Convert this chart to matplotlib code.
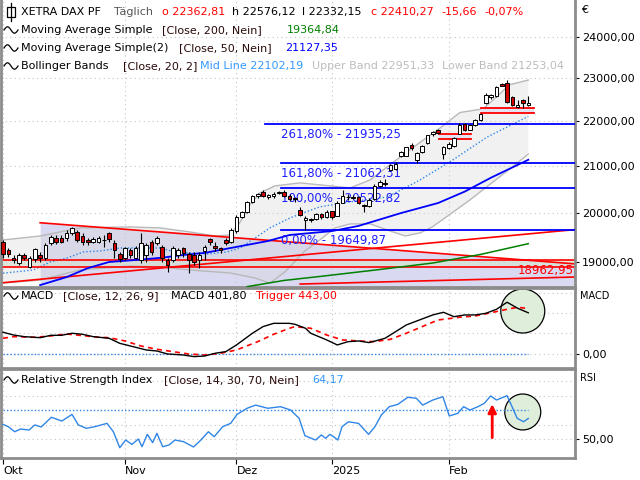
import numpy as np
import matplotlib
matplotlib.use("Agg")
import matplotlib.pyplot as plt
from matplotlib.patches import Ellipse, Rectangle
from matplotlib.lines import Line2D
from matplotlib.ticker import FixedLocator, NullLocator, FuncFormatter

plt.rcParams['font.family'] = ['DejaVu Sans']

# ---------------- data ----------------
opens = [19405, 19239, 19085, 18974, 19139, 18908, 19059, 19139, 19073, 19372,
         19487, 19474, 19474, 19575, 19609, 19528, 19440, 19405, 19405, 19433,
         19575, 19372, 19153, 19073, 19239, 19073, 19040, 19139, 19393, 19372,
         19306, 19040, 19040, 19139, 19273, 19153, 19139, 19040, 19219, 19454,
         19326, 19273, 19440, 19405, 19620, 19917, 20021, 20230, 20340, 20440,
         20320, 20340, 20415, 20430, 20350, 20300, 20060, 19850, 19860, 19860,
         19980, 19910, 20030, 19930, 20210, 20320, 20330, 20330, 20150, 20140,
         20290, 20560, 20620, 20907, 20922, 21200, 21218, 21458, 21126, 21309,
         21503, 21697, 21795, 21254, 21390, 21427, 21704, 21932, 21795, 21909,
         22023, 22410, 22548, 22580, 22850, 22880, 22548, 22320, 22470, 22362.81]
highs = [19440, 19273, 19139, 19172, 19172, 19125, 19273, 19206, 19372, 19541,
         19541, 19541, 19643, 19712, 19643, 19575, 19487, 19507, 19520, 19541,
         19609, 19440, 19206, 19306, 19273, 19326, 19575, 19372, 19440, 19520,
         19339, 19073, 19326, 19273, 19306, 19206, 19206, 19193, 19339, 19487,
         19405, 19306, 19474, 19678, 19950, 20040, 20250, 20360, 20420, 20480,
         20400, 20430, 20460, 20470, 20400, 20330, 20110, 19920, 19890, 19990,
         20000, 20060, 20040, 20250, 20470, 20380, 20360, 20350, 20170, 20300,
         20600, 20680, 20700, 21030, 21070, 21330, 21420, 21500, 21300, 21460,
         21680, 21760, 21810, 21440, 21530, 21640, 21940, 21960, 21930, 22040,
         22180, 22640, 22620, 22810, 22890, 22958, 22580, 22480, 22500, 22576.12]
lows = [19073, 19105, 18974, 18941, 19040, 18888, 19006, 19006, 19040, 19339,
        19353, 19372, 19420, 19541, 19405, 19339, 19339, 19372, 19372, 19306,
        19405, 19073, 19006, 19040, 19073, 19059, 18974, 19006, 19139, 19339,
        19006, 18810, 19000, 19073, 19105, 18777, 18941, 18876, 19040, 19339,
        19219, 19172, 19339, 19372, 19590, 19890, 20000, 20200, 20300, 20320,
        20290, 20310, 20380, 20320, 20250, 20230, 19930, 19640, 19800, 19850,
        19870, 19880, 19870, 19920, 20190, 20260, 20280, 20180, 20010, 20120,
        20270, 20540, 20560, 20890, 20900, 21180, 21200, 21350, 21053, 21280,
        21480, 21660, 21700, 21150, 21370, 21400, 21690, 21760, 21780, 21890,
        22000, 22380, 22500, 22560, 22800, 22420, 22330, 22300, 22300, 22332.15]
closes = [19153, 19153, 19040, 19139, 19085, 19073, 19253, 19073, 19339, 19507,
          19393, 19405, 19575, 19678, 19440, 19405, 19393, 19460, 19474, 19447,
          19460, 19239, 19059, 19273, 19139, 19286, 19372, 19339, 19206, 19474,
          19073, 18941, 19273, 19239, 19172, 19040, 19006, 19139, 19306, 19405,
          19273, 19246, 19372, 19643, 19917, 20021, 20230, 20340, 20390, 20350,
          20371, 20400, 20420, 20340, 20290, 20280, 19950, 19880, 19848, 19975,
          19900, 20020, 19900, 20210, 20340, 20330, 20310, 20210, 20130, 20270,
          20560, 20650, 20600, 21016, 21038, 21309, 21400, 21385, 21286, 21436,
          21667, 21742, 21727, 21420, 21480, 21615, 21909, 21780, 21909, 22023,
          22154, 22603, 22595, 22794, 22820, 22440, 22370, 22360, 22400, 22410.27]

sma50_x = [7, 12, 16, 20, 25, 30, 34, 38, 43, 50, 54, 62, 67, 75, 82, 87, 92, 99]
sma50_y = [18550, 18705, 18880, 19000, 19040, 19085, 19140, 19180, 19280, 19420,
           19540, 19620, 19725, 19990, 20200, 20440, 20740, 21127.35]
sma200_x = [46, 53, 60, 70, 81, 90, 99]
sma200_y = [18520, 18640, 18720, 18840, 18980, 19150, 19364.84]

bb_mid_x = [0, 5.7, 8.9, 12.1, 15.1, 18.3, 22.1, 29.6, 32.4, 38.5, 42.2, 44.7, 47.5,
            50.3, 54.1, 59.7, 65.4, 72.4, 78.6, 84.8, 91.2, 99]
bb_mid_y = [18780, 18843, 19000, 19079, 19199, 19219, 19279, 19279, 19199, 19159,
            19199, 19279, 19480, 19684, 19890, 20120, 20223, 20326, 20690, 21126,
            21630, 22102.19]
bb_up_x = [0, 7, 14.5, 23.9, 29.6, 35.2, 40, 42.8, 44.7, 46.5, 48.4, 51.3, 56,
           61.6, 65.4, 69.2, 72.9, 77.3, 82.4, 86.1, 90.5, 95.5, 99]
bb_up_y = [19440, 19520, 19684, 19705, 19684, 19602, 19520, 19541, 19807, 20160,
           20415, 20563, 20627, 20563, 20520, 20691, 21016, 21402, 21840, 22190,
           22275, 22840, 22951.33]
bb_lo_x = [0, 7, 14.5, 23.9, 29.6, 35.2, 42.8, 47.5, 50.3, 53.1, 56.9, 59.7, 62.6,
           65.4, 69.2, 72.9, 75.8, 78.6, 80.9, 83.3, 88, 91.8, 95.6, 99]
bb_lo_y = [18588, 18647, 18843, 18921, 18902, 18843, 18784, 18686, 18588, 18804,
           19218, 19440, 19684, 19766, 19766, 19623, 19520, 19582, 19705, 19890,
           20265, 20598, 20935, 21253.04]

fib_levels = [21935.25, 21062.31, 20522.82, 19649.87]
fib_pcts = ['261,80%', '161,80%', '100,00%', '0,00%']
fib_start = [49.4, 52.4, 52.4, 52.4]

trendA_x, trendA_y = [7.0, 107.8], [19790, 18962.95]
trendB_x, trendB_y = [-0.6, 107.8], [18590, 19650]
trendC_x, trendC_y = [56.0, 107.8], [18570, 18706]
support_levels = [19045, 18905]
gap_x0, gap_x1 = [82.2, 90.1], [88.2, 100.0]
gap_lo, gap_hi = [21578, 22185], [21690, 22295]

macd_x = [0, 2, 4, 7, 9, 11, 13, 15, 17, 20, 22, 24, 27, 29, 31, 34, 36, 38, 40, 42,
          44, 47, 49, 51, 54, 55, 57, 58, 61, 63, 65, 67, 69, 72, 74, 76, 79, 81, 83,
          85, 87, 89, 91, 93, 95, 97, 99]
macd_y = [212, 185, 169, 159, 182, 182, 202, 192, 169, 153, 104, 78, 39, 29, 0, -10,
          -26, -20, 7, 23, 88, 202, 267, 299, 299, 290, 251, 202, 137, 88, 120, 127,
          111, 153, 218, 283, 342, 381, 407, 364, 381, 381, 397, 436, 505, 446, 401.8]
trig_x = [0, 2, 6, 9, 12, 15, 18, 20, 23, 26, 29, 32, 35, 38, 41, 44, 48, 51, 54, 55,
          58, 61, 64, 67, 70, 73, 76, 79, 82, 86, 89, 92, 95, 97, 99]
trig_y = [153, 169, 163, 176, 195, 179, 163, 159, 127, 78, 46, 23, 0, -10, 7, 39, 120,
          192, 251, 267, 251, 185, 137, 127, 120, 143, 202, 267, 332, 358, 371, 403,
          436, 456, 443]

rsi_x = [0, 1, 2.2, 3.3, 4.9, 6, 7.2, 9.1, 11.1, 13, 14.2, 15.7, 17.3, 19.6, 20.8, 22,
         23.1, 24.3, 25.5, 26.2, 27.2, 28.2, 29, 30.1, 31.3, 32.4, 34, 35.9, 37.1, 38.7,
         39.8, 41.4, 42.9, 44.1, 46, 47.6, 49.9, 52.3, 54.2, 55.8, 56.9, 58.9, 60, 60.8,
         61.6, 62.3, 63.1, 63.9, 65.1, 67, 68.9, 70.1, 71.3, 72.8, 74.4, 76.3, 77.9,
         79.1, 81, 82.9, 84.1, 85.7, 86.8, 88, 89.5, 90.7, 91.9, 93, 95, 95.8, 96.9,
         98.1, 99]
rsi_y = [60.1, 58.5, 55.0, 56.9, 56.2, 59.7, 58.3, 65.0, 62.4, 67.0, 59.7, 57.4, 58.5,
         60.8, 55.0, 44.0, 49.3, 46.3, 50.0, 44.7, 53.2, 47.5, 53.9, 44.7, 45.9, 49.3,
         48.2, 44.5, 48.6, 55.0, 51.6, 58.5, 60.8, 67.0, 71.2, 73.4, 71.2, 72.3, 70.0,
         64.3, 52.3, 49.3, 52.8, 50.5, 53.2, 51.6, 49.3, 58.5, 61.9, 60.8, 53.2, 58.5,
         66.6, 72.3, 73.9, 78.8, 78.1, 73.4, 76.9, 79.2, 65.9, 67.7, 72.3, 70.0, 72.3,
         74.6, 79.7, 76.9, 79.9, 73.4, 64.3, 61.9, 64.17]

month_pos = [0, 23, 44, 62, 84]
month_lbl = ['Okt', 'Nov', 'Dez', '2025', 'Feb']
price_ticks = [19000, 20000, 21000, 22000, 23000, 24000]

# ---------------- figure ----------------
W, H = 640, 480
fig = plt.figure(figsize=(6.4, 4.8), dpi=100)
fig.patch.set_facecolor('white')

def rect(x0, y0, x1, y1):
    return [x0 / W, 1 - y1 / H, (x1 - x0) / W, (y1 - y0) / H]

ax = fig.add_axes(rect(1, 0, 575, 287))
axm = fig.add_axes(rect(1, 288, 575, 368))
axr = fig.add_axes(rect(1, 369, 575, 458))

XL = (-0.38, 107.8)
fmt = FuncFormatter(lambda v, p: f"{v:.2f}".replace('.', ','))
grid_kw = dict(color='#c4c4c4', linestyle=(0, (1, 3)), linewidth=0.8)
for a in (ax, axm, axr):
    a.set_xlim(*XL)
    a.set_facecolor('white')
    for s in a.spines.values():
        s.set_color('#8c8c8c')
        s.set_linewidth(2)
    a.spines['top'].set_visible(a is not ax)
    a.yaxis.tick_right()
    a.tick_params(axis='y', which='major', length=3, width=0.8, pad=2,
                  labelsize=8, colors='black')
    a.tick_params(axis='y', which='minor', length=0)
    a.xaxis.set_major_locator(FixedLocator(month_pos))
    a.tick_params(axis='x', which='major', length=0, labelbottom=False)
    a.set_axisbelow(True)

# main panel
ax.set_yscale('log')
ax.set_ylim(18513, 24940)
ax.yaxis.set_major_locator(FixedLocator(price_ticks))
ax.yaxis.set_minor_locator(NullLocator())
ax.yaxis.set_major_formatter(fmt)
ax.grid(True, which='major', **grid_kw)

# zones
ax.fill_between(trendA_x, trendA_y, [18513, 18513], color='#d9d9f2', lw=0, zorder=0.5)
ax.axhspan(support_levels[1], support_levels[0], color='#d5e6cf', alpha=0.65, lw=0, zorder=0.6)

# bollinger bands
ax.fill(np.r_[bb_up_x, bb_lo_x[::-1]], np.r_[bb_up_y, bb_lo_y[::-1]],
        color='#d8d8d8', alpha=0.35, lw=0, zorder=0.7)
ax.plot(bb_up_x, bb_up_y, color='#b9b9b9', lw=1.0, zorder=1)
ax.plot(bb_lo_x, bb_lo_y, color='#b9b9b9', lw=1.0, zorder=1)
ax.plot(bb_mid_x, bb_mid_y, color='#2f86e6', lw=1.0, linestyle=(0, (1, 1.5)), zorder=2)

# trend / support lines
for lv in support_levels:
    ax.axhline(lv, color='#ff0000', lw=1.2, zorder=2)
for tx, ty in ((trendA_x, trendA_y), (trendB_x, trendB_y), (trendC_x, trendC_y)):
    ax.plot(tx, ty, color='#ff0000', lw=1.2, zorder=2)
ax.text(107.6, trendA_y[1], '18962,95', color='#ff0000', fontsize=8.5,
        ha='right', va='top', zorder=3)

# gap boxes
for x0, x1, lo, hi in zip(gap_x0, gap_x1, gap_lo, gap_hi):
    ax.fill_between([x0, x1], [lo, lo], [hi, hi], color='#e2e2f0', lw=0, zorder=2)
    ax.plot([x0, x1], [lo, lo], color='#ff0000', lw=1.3, zorder=2.1)
    ax.plot([x0, x1], [hi, hi], color='#ff0000', lw=1.3, zorder=2.1)

# moving averages
ax.plot(sma200_x, sma200_y, color='#008000', lw=1.1, zorder=3)
ax.plot(sma50_x, sma50_y, color='#0000ff', lw=1.3, zorder=3)

# fibonacci
for lv, pc, st in zip(fib_levels, fib_pcts, fib_start):
    ax.plot([st, XL[1]], [lv, lv], color='#0000ff', lw=1.3, zorder=3)
    ax.annotate(f"{pc} - " + f"{lv:.2f}".replace('.', ','),
                xy=(52.4, lv), xytext=(0, -3), textcoords='offset points',
                color='#1f1fff', fontsize=8.5, ha='left', va='top', zorder=3.5)

# candles
o = np.array(opens); c = np.array(closes); h = np.array(highs); l = np.array(lows)
idx = np.arange(len(c))
up = c >= o
ax.vlines(idx, l, h, color='black', lw=0.8, zorder=6)
bot = np.minimum(o, c)
hgt = np.maximum(np.abs(c - o), bot * 0.0005)
ax.bar(idx, hgt, bottom=bot, width=0.68, color=np.where(up, 'white', '#d00000'),
       edgecolor='black', linewidth=0.7, zorder=7)

# MACD panel
axm.set_ylim(-137, 644)
axm.yaxis.set_major_locator(FixedLocator([0]))
axm.yaxis.set_minor_locator(FixedLocator([200, 400, 600]))
axm.yaxis.set_major_formatter(fmt)
axm.grid(True, which='both', **grid_kw)
axm.plot([0, 99], [0, 0], color='#2f86e6', lw=1.0, linestyle=(0, (1, 1.5)), zorder=2)
axm.add_patch(Ellipse((0.909, 0.7125), 0.0767, 0.55, transform=axm.transAxes,
                      facecolor='#dfeddb', edgecolor='black', lw=0.9, zorder=1.5))
axm.plot(trig_x, trig_y, color='#ff0000', lw=1.2, linestyle=(0, (3, 2.5)), zorder=3)
axm.plot(macd_x, macd_y, color='black', lw=1.0, zorder=4)

# RSI panel
axr.set_ylim(36.9, 98.3)
axr.yaxis.set_major_locator(FixedLocator([50]))
axr.yaxis.set_minor_locator(FixedLocator([60, 80, 90]))
axr.yaxis.set_major_formatter(fmt)
axr.grid(True, which='both', **grid_kw)
axr.plot([0, 99], [70, 70], color='#2f86e6', lw=1.0, linestyle=(0, (1, 1.5)), zorder=2)
axr.add_patch(Ellipse((0.909, 0.517), 0.0627, 0.404, transform=axr.transAxes,
                      facecolor='#dfeddb', edgecolor='black', lw=0.9, zorder=1.5))
axr.plot(rsi_x, rsi_y, color='#2f86e6', lw=1.0, zorder=4)
arrow_x, arrow_from, arrow_to = 92.2, 49.0, 76.0
axr.annotate('', xy=(arrow_x, arrow_to), xytext=(arrow_x, arrow_from),
             arrowprops=dict(arrowstyle='-|>', color='#ff0000', lw=2, mutation_scale=12),
             zorder=5)

# x axis (bottom)
axr.tick_params(axis='x', which='major', length=4, width=0.8, color='black',
                labelbottom=True, labelsize=8, pad=2)
axr.set_xticklabels(month_lbl, ha='left')

# ---------------- header texts ----------------
def ftxt(x, yi, s, color='black', size=8, **kw):
    fig.text(x / W, 1 - yi / H, s, color=color, fontsize=size, va='center', ha='left', **kw)

def sine_icon(x0, yi):
    t = np.linspace(0, 1, 30)
    xs = (x0 + 14 * t) / W
    ys = 1 - (yi + 3.2 * np.sin(2 * np.pi * t + np.pi)) / H
    fig.add_artist(Line2D(xs, ys, color='black', lw=0.9, transform=fig.transFigure))

fig.add_artist(Line2D([11 / W, 11 / W], [1 - 3 / H, 1 - 21 / H], color='black', lw=0.9,
                      transform=fig.transFigure))
fig.add_artist(Rectangle((7 / W, 1 - 17 / H), 8 / W, 10 / H, facecolor='white',
                         edgecolor='black', lw=0.9, transform=fig.transFigure))

ftxt(21, 12, 'XETRA DAX PF')
ftxt(114, 12, 'Täglich', '#555555')
ftxt(162, 12, 'o 22362,81', '#ff0000')
ftxt(232, 12, 'h 22576,12')
ftxt(302, 12, 'l 22332,15')
ftxt(371, 12, 'c 22410,27', '#ff0000')
ftxt(441, 12, '-15,66', '#ff0000')
ftxt(484, 12, '-0,07%', '#ff0000')

sine_icon(4, 30)
ftxt(21, 30, 'Moving Average Simple')
ftxt(162, 30, '[Close, 200, Nein]', '#2a0a0a')
ftxt(287, 30, '19364,84', '#008000')

sine_icon(4, 48)
ftxt(21, 48, 'Moving Average Simple(2)')
ftxt(179, 48, '[Close, 50, Nein]', '#2a0a0a')
ftxt(285, 48, '21127,35', '#0000ff')

sine_icon(4, 66)
ftxt(21, 66, 'Bollinger Bands')
ftxt(123, 66, '[Close, 20, 2]', '#2a0a0a')
ftxt(200, 66, 'Mid Line 22102,19', '#3399ff')
ftxt(312, 66, 'Upper Band 22951,33', '#bdbdbd')
ftxt(442, 66, 'Lower Band 21253,04', '#bdbdbd')

sine_icon(4, 296)
ftxt(21, 296, 'MACD')
ftxt(63, 296, '[Close, 12, 26, 9]', '#2a0a0a')
ftxt(171, 296, 'MACD 401,80')
ftxt(256, 296, 'Trigger 443,00', '#ff0000')

sine_icon(4, 380)
ftxt(21, 380, 'Relative Strength Index')
ftxt(164, 380, '[Close, 14, 30, 70, Nein]', '#2a0a0a')
ftxt(312, 380, '64,17', '#3399ff')

ftxt(581, 10, '€', size=8)
ftxt(580, 296, 'MACD', size=7)
ftxt(580, 378, 'RSI', size=7)

fig.savefig('out.png', dpi=100)
